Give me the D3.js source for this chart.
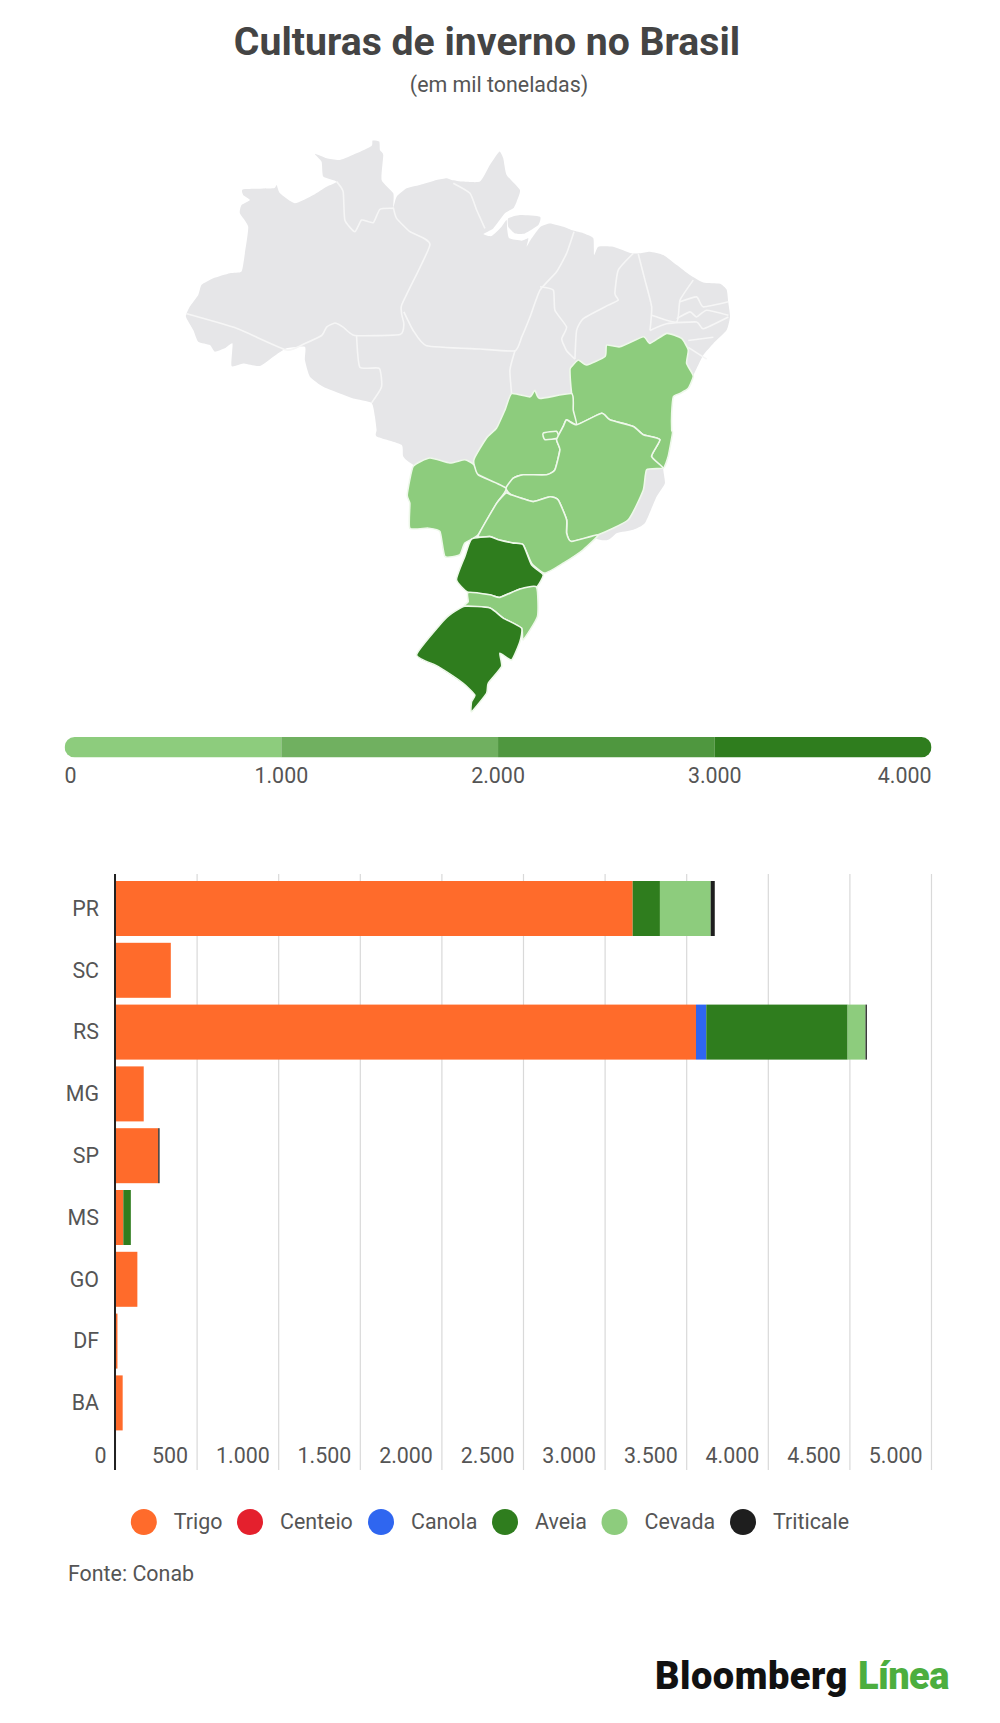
<!DOCTYPE html>
<html>
<head>
<meta charset="utf-8">
<script src="https://cdn.jsdelivr.net/npm/d3@7"></script>
<style>
  body { margin: 0; background: #fff; }
  text { font-family: Roboto, sans-serif; }
</style>
</head>
<body>
<svg id="grafico" width="1000" height="1723"></svg>
<script>
// dados das barras (mil toneladas)
var estados = ["PR", "SC", "RS", "MG", "SP", "MS", "GO", "DF", "BA"]
var culturas = ["Trigo", "Centeio", "Canola", "Aveia", "Cevada", "Triticale"]
var coresCulturas = ["#ff6b2b", "#e4202d", "#2f66f0", "#2f7d1e", "#8dcc7d", "#1e1e1e"]
var trigo = [3172, 342, 3560, 176, 265, 51, 137, 15, 47]
var centeio = [0, 0, 0, 0, 0, 0, 0, 0, 0]
var canola = [0, 0, 63, 0, 0, 0, 0, 0, 0]
var aveia = [167, 0, 866, 0, 0, 46, 0, 0, 0]
var cevada = [311, 0, 110, 0, 0, 0, 0, 0, 0]
var triticale = [25, 0, 8, 0, 8, 0, 0, 0, 0]
var ticksBarras = [0, 500, 1000, 1500, 2000, 2500, 3000, 3500, 4000, 4500, 5000]

// legenda de cores do mapa
var ticksMapa = [0, 1000, 2000, 3000, 4000]
var coresMapa = ["#8dcc7d", "#70b060", "#4f973f", "#2f7d1e"]

// contornos em [lon, lat]
var contornoBrasil = [
  [-74,-7.38],[-73.71,-6.67],[-73.11,-5.84],[-72.87,-5.12],[-72.03,-4.65],[-70.84,-4.29],[-70,-4.17],[-69.76,-2.86],
  [-69.52,-0.95],[-70.12,0.01],[-70,0.61],[-69.4,0.97],[-69.88,1.33],[-69.88,1.74],[-67.72,1.81],[-67.48,2.05],
  [-67.24,1.45],[-66.17,0.73],[-64.85,1.33],[-63.89,1.93],[-63.17,2.29],[-64.13,2.65],[-64.25,3.72],[-64.73,4.28],
  [-63.89,3.96],[-62.93,3.84],[-61.74,4.32],[-60.66,4.85],[-60.59,5.23],[-60.11,5.16],[-60.06,4.56],[-59.82,4.2],
  [-59.94,2.41],[-59.1,1.45],[-59.1,0.44],[-58.86,1.21],[-58.14,1.81],[-57.19,2.05],[-55.99,2.41],[-55.27,2.53],
  [-54.91,2.41],[-54.07,2.29],[-52.87,2.29],[-52.16,3.48],[-51.49,4.44],[-51.2,3.96],[-50.96,2.77],[-50,1.69],
  [-50.24,0.85],[-50.48,0.37],[-51.08,0.01],[-51.92,-1.07],[-52.63,-1.47],[-52.04,-1.62],[-51.32,-0.95],[-50.96,-0.47],
  [-50.91,-1.19],[-50.77,-1.78],[-49.88,-1.95],[-49.4,-1.78],[-49.52,-2.38],[-49.16,-1.78],[-48.52,-0.95],[-47.84,-0.71],
  [-46.89,-0.95],[-46.17,-1.23],[-45.45,-1.42],[-44.73,-1.78],[-44.68,-2.98],[-44.37,-2.38],[-43.3,-2.38],[-41.98,-2.86],
  [-41.38,-2.86],[-40.66,-2.74],[-39.7,-2.98],[-38.74,-3.7],[-37.79,-4.42],[-36.83,-4.95],[-35.63,-5.04],[-35.15,-5.47],
  [-35.03,-6.42],[-34.91,-7.38],[-35.15,-8.34],[-36.11,-9.29],[-36.83,-10.12],[-37.55,-11.59],[-37.91,-12.46],[-38.5,-12.82],
  [-38.98,-13.05],[-39.1,-14.2],[-39.1,-15.36],[-39.04,-15.58],[-39.35,-17.18],[-39.71,-17.98],[-39.59,-19.01],[-40.19,-19.93],
  [-41.02,-21.7],[-41.86,-22.15],[-43.06,-22.37],[-44.26,-22.81],[-52.64,-20.15],[-57.67,-17.75],[-58.39,-17.18],[-58.51,-16.38],
  [-60.3,-15.81],[-60.3,-15.35],[-60.42,-14.43],[-60.66,-13.48],[-61.98,-13.17],[-62.93,-12.82],[-64.13,-12.35],[-65.09,-11.64],
  [-65.45,-10.47],[-65.45,-9.53],[-66.77,-9.64],[-67.72,-10.24],[-68.68,-10.89],[-69.88,-10.71],[-70.72,-10.89],[-70.65,-9.29],
  [-71.2,-9.64],[-71.92,-9.88],[-72.27,-9.41],[-73.11,-9.17],[-73.47,-8.34]
]
var marajo = [[-50.84,-0.35],[-50,-0.11],[-48.56,-0.23],[-48.68,-0.83],[-49.64,-1.43],[-50.36,-1.43],[-50.84,-0.95]]

// divisas dos estados que ficam em cinza
var divisas = [
  [[-74,-7.17],[-70.36,-8.22],[-66.77,-9.76],[-65.45,-9.29],[-64.25,-8.73],[-63.89,-8.13],[-63.29,-7.84],[-62.7,-8.13],[-61.86,-8.73],[-58.62,-8.66],[-58.34,-7.89],[-58.5,-6.57],[-56.47,-2.26],[-57.9,-1.31],[-58.86,-0.35],[-59.1,0.44]],
  [[-61.74,-8.73],[-61.5,-10.98],[-60.11,-11.05],[-59.94,-12.35],[-60.66,-13.48]],
  [[-63.17,2.29],[-62.7,1.57],[-62.58,-0.47],[-61.86,-1.31],[-61.38,-0.47],[-60.54,-0.66],[-60.06,0.3],[-59.1,0.37]],
  [[-54.79,2.17],[-53.59,1.45],[-53.11,0.25],[-52.52,-1.07]],
  [[-58.34,-7.05],[-57.67,-8.37],[-56.71,-9.45],[-52.87,-9.69],[-50.36,-9.81],[-49.88,-8.85],[-49.28,-7.41],[-48.56,-5.5],[-47.37,-4.18],[-46.65,-2.86],[-46.12,-1.31]],
  [[-48.56,-5.26],[-47.6,-5.5],[-47.49,-6.93],[-46.65,-8.13],[-47,-8.97],[-46.65,-9.81],[-46.05,-10.4]],
  [[-50.36,-9.81],[-50.72,-11.16],[-50.6,-12.82]],
  [[-46.05,-10.4],[-45.93,-8.37],[-45.45,-7.53],[-43.65,-6.57],[-42.94,-6.21],[-43.18,-5.73],[-42.94,-4.06],[-41.86,-2.86]],
  [[-41.5,-2.91],[-41.02,-4.78],[-40.54,-6.69],[-40.66,-8.37]],
  [[-40.54,-7.29],[-38.74,-7.77],[-38.5,-6.21],[-37.55,-4.78]],
  [[-38.5,-6.33],[-37.31,-5.98],[-36.83,-6.69],[-35.03,-6.33]],
  [[-38.74,-7.53],[-37.79,-7.05],[-37.31,-7.41],[-36.59,-6.93],[-35.03,-7.29]],
  [[-40.66,-8.37],[-39.46,-7.89],[-37.31,-7.77],[-36.83,-8.25],[-35.03,-7.41]],
  [[-37.91,-9.57],[-36.59,-10.4]],
  [[-37.91,-9.09],[-36.11,-8.85]]
]

// estados com dados, desenhados por cima do cinza
var estadosMapa = {
  BA: [[-46.29,-10.93],[-45.81,-10.46],[-45.21,-10.82],[-43.89,-10.22],[-43.77,-9.41],[-42.82,-9.53],[-41.14,-8.82],[-40.66,-9.29],[-39.46,-8.58],[-38.39,-8.94],[-37.91,-9.76],[-38.03,-10.7],[-37.55,-11.59],[-37.91,-12.46],[-38.5,-12.82],[-38.98,-13.05],[-39.1,-14.2],[-39.1,-15.36],[-39.04,-15.58],[-39.35,-17.18],[-39.71,-17.98],[-40.55,-17.18],[-39.95,-16.03],[-41.14,-15.69],[-41.86,-15.12],[-43.54,-14.66],[-44.14,-14.2],[-45.93,-15],[-46.29,-13.98],[-46.17,-13.29],[-46.29,-12.83],[-46.41,-11.16]],
  GO: [[-50.6,-12.83],[-49.29,-13.06],[-48.93,-12.6],[-48.57,-13.17],[-46.29,-12.83],[-46.17,-13.98],[-45.93,-15],[-46.65,-14.66],[-46.89,-15.12],[-47.37,-16.03],[-47.13,-16.72],[-47.49,-18.1],[-48.09,-18.44],[-49.77,-18.44],[-50.48,-18.67],[-51.01,-19.35],[-52.16,-18.9],[-53.12,-18.44],[-53.31,-17.41],[-52.4,-15.92],[-51.68,-15.23],[-51.08,-13.98]],
  DF: [[-48.33,-15.58],[-47.37,-15.46],[-47.25,-15.92],[-48.21,-16.03]],
  MG: [[-45.93,-15],[-44.14,-14.2],[-43.54,-14.66],[-41.86,-15.12],[-41.14,-15.69],[-39.95,-16.03],[-40.55,-17.18],[-39.71,-17.98],[-40.9,-18.1],[-41.14,-19.47],[-42.22,-21.48],[-44.38,-22.48],[-46.29,-22.92],[-46.65,-22.37],[-46.65,-21.48],[-47.25,-20.15],[-47.85,-19.93],[-49.05,-20.26],[-50.6,-19.81],[-51.01,-19.35],[-50.48,-18.67],[-49.77,-18.44],[-48.09,-18.44],[-47.49,-18.1],[-47.13,-16.72],[-47.37,-16.03],[-46.89,-15.12],[-46.65,-14.66]],
  MS: [[-57.67,-17.87],[-56.47,-17.3],[-55.04,-17.64],[-53.96,-17.41],[-53.31,-17.75],[-53,-18.44],[-51.01,-19.35],[-51.68,-20.38],[-53,-22.48],[-53.96,-23.03],[-54.32,-23.8],[-55.39,-23.91],[-55.75,-22.26],[-56.59,-22.04],[-57.91,-22.04],[-57.91,-20.38],[-58.1,-19.81]],
  SP: [[-50.6,-19.81],[-49.05,-20.26],[-47.85,-19.93],[-47.25,-20.15],[-46.65,-21.48],[-46.65,-22.37],[-46.29,-22.92],[-44.38,-22.48],[-45.46,-23.47],[-46.89,-24.35],[-48.21,-25],[-49.17,-24.35],[-49.77,-23.14],[-50.48,-23.03],[-51.56,-22.81],[-52.16,-22.6],[-53,-22.55],[-51.68,-20.38],[-51.01,-19.69]],
  PR: [[-53.48,-22.77],[-52.16,-22.6],[-51.56,-22.81],[-50.48,-23.03],[-49.77,-23.14],[-49.17,-24.46],[-48.33,-25.11],[-48.81,-25.9],[-50,-26.03],[-51.44,-26.57],[-52.16,-26.4],[-53.72,-26.25],[-54.56,-25.43],[-53.96,-23.91]],
  SC: [[-53.72,-26.25],[-52.16,-26.4],[-51.44,-26.57],[-50,-26.03],[-48.81,-25.9],[-48.74,-27.78],[-49.77,-29.26],[-49.89,-28.52],[-51.2,-27.89],[-52.16,-27.25],[-53.96,-27.14],[-53.72,-26.83]],
  RS: [[-53.96,-27.14],[-52.16,-27.25],[-51.2,-27.89],[-49.89,-28.52],[-50,-29.37],[-50.6,-30.52],[-51.44,-30.1],[-51.32,-30.93],[-52.28,-31.95],[-52.4,-32.56],[-53.48,-33.67],[-53.48,-33.07],[-53.24,-32.66],[-54.08,-31.95],[-55.87,-30.93],[-57.43,-30.2],[-55.75,-28.31],[-55.04,-27.68]]
}

var svg = d3.select("#grafico")
var corTexto = "#555"
var corpo = "21.4px"

// titulo
svg.append("text").text("Culturas de inverno no Brasil")
  .attr("x", 487).attr("y", 55).attr("text-anchor", "middle")
  .style("font-size", "39.2px").style("font-weight", 700).attr("fill", "#444")
svg.append("text").text("(em mil toneladas)")
  .attr("x", 499).attr("y", 92).attr("text-anchor", "middle")
  .style("font-size", corpo).attr("fill", corTexto)

// mapa
var projecao = d3.geoMercator().scale(797.6).translate([1216, 213.5])
function caminho(pontos, fechar) {
  var linha = d3.line().curve(fechar ? d3.curveCardinalClosed.tension(0.5) : d3.curveCardinal.tension(0.5))
  return linha(pontos.map(function(p) { return projecao(p) }))
}

var totais = {}
estados.forEach(function(e, i) {
  totais[e] = trigo[i] + centeio[i] + canola[i] + aveia[i] + cevada[i] + triticale[i]
})
var corMapa = d3.scaleThreshold().domain(ticksMapa.slice(1, 4)).range(coresMapa)

var mapa = svg.append("g")
mapa.append("path").attr("d", caminho(contornoBrasil, true)).attr("fill", "#e6e6e8")
mapa.append("path").attr("d", caminho(marajo, true)).attr("fill", "#e6e6e8")
mapa.selectAll(".divisa").data(divisas).enter().append("path")
  .attr("class", "divisa")
  .attr("d", function(d) { return caminho(d, false) })
  .attr("fill", "none").attr("stroke", "#f6f6f6").attr("stroke-width", 1.6)
mapa.selectAll(".estado").data(Object.keys(estadosMapa)).enter().append("path")
  .attr("class", "estado")
  .attr("d", function(d) { return caminho(estadosMapa[d], true) })
  .attr("fill", function(d) { return corMapa(totais[d]) })
  .attr("stroke", "#eef8ea").attr("stroke-width", 1.6).attr("stroke-linejoin", "round")

// legenda do mapa
var xMapa = d3.scaleLinear().domain([0, 4000]).range([64.6, 931.5])
var formato = d3.formatLocale({ decimal: ",", thousands: ".", grouping: [3], currency: ["", ""] }).format(",d")

svg.append("clipPath").attr("id", "pilula").append("rect")
  .attr("x", xMapa(0)).attr("y", 737).attr("width", xMapa(4000) - xMapa(0)).attr("height", 20.5).attr("rx", 10)
svg.append("g").attr("clip-path", "url(#pilula)")
  .selectAll("rect").data(coresMapa).enter().append("rect")
  .attr("x", function(d, i) { return xMapa(ticksMapa[i]) })
  .attr("y", 737)
  .attr("width", function(d, i) { return xMapa(ticksMapa[i + 1]) - xMapa(ticksMapa[i]) })
  .attr("height", 20.5)
  .attr("fill", function(d) { return d })
svg.append("g").selectAll("text").data(ticksMapa).enter().append("text")
  .text(function(d) { return formato(d) })
  .attr("x", function(d) { return xMapa(d) })
  .attr("y", 783)
  .attr("text-anchor", function(d, i) { return i == 0 ? "start" : i == 4 ? "end" : "middle" })
  .style("font-size", corpo).attr("fill", corTexto)

// barras
var x = d3.scaleLinear().domain([0, 5000]).range([115, 931])
var y = d3.scaleBand().domain(estados).range([877.6, 1433.8]).paddingInner(0.11).paddingOuter(0.055)

var linhas = estados.map(function(e, i) {
  return { estado: e, Trigo: trigo[i], Centeio: centeio[i], Canola: canola[i], Aveia: aveia[i], Cevada: cevada[i], Triticale: triticale[i] }
})
var pilha = d3.stack().keys(culturas)(linhas)
var corCultura = d3.scaleOrdinal().domain(culturas).range(coresCulturas)

// grade e rotulos do eixo x
var eixoX = svg.append("g").attr("transform", "translate(0,1470)")
  .call(d3.axisBottom(x).tickValues(ticksBarras).tickSize(-596).tickFormat(formato))
eixoX.select(".domain").remove()
eixoX.selectAll("line").attr("stroke", "#d9d9d9").attr("stroke-width", 1.2)
eixoX.selectAll("text")
  .attr("text-anchor", "end")
  .attr("x", -9).attr("y", -7).attr("dy", 0)
  .style("font-size", corpo).attr("fill", corTexto)

svg.append("g").selectAll("g").data(pilha).enter().append("g")
  .attr("fill", function(d) { return corCultura(d.key) })
  .selectAll("rect").data(function(d) { return d }).enter().append("rect")
  .attr("x", function(d) { return x(d[0]) })
  .attr("y", function(d) { return y(d.data.estado) })
  .attr("width", function(d) { return x(d[1]) - x(d[0]) })
  .attr("height", y.bandwidth())

// eixo y
var eixoY = svg.append("g").attr("transform", "translate(115,0.5)")
  .call(d3.axisLeft(y).tickSize(0).tickPadding(16))
eixoY.select(".domain").remove()
eixoY.selectAll("text").style("font-size", corpo).attr("fill", corTexto)
svg.append("line").attr("x1", x(0)).attr("x2", x(0)).attr("y1", 874).attr("y2", 1470)
  .attr("stroke", "#222").attr("stroke-width", 2)

// legenda das culturas
var posLegenda = d3.scaleOrdinal().domain(culturas).range([143.8, 250, 381, 505, 614.5, 743])
var legenda = svg.append("g").selectAll("g").data(culturas).enter().append("g")
  .attr("transform", function(d) { return "translate(" + posLegenda(d) + ",1522)" })
legenda.append("circle").attr("r", 13).attr("fill", function(d) { return corCultura(d) })
legenda.append("text").text(function(d) { return d })
  .attr("x", 30).attr("y", 6.5).style("font-size", corpo).attr("fill", corTexto)

// fonte e marca
svg.append("text").text("Fonte: Conab")
  .attr("x", 68).attr("y", 1581).style("font-size", corpo).attr("fill", corTexto)
var marca = svg.append("text").attr("y", 1689)
  .style("font-size", "38px").style("font-weight", 900)
marca.append("tspan").text("Bloomberg").attr("x", 655).attr("fill", "#111").style("letter-spacing", "0.5px")
marca.append("tspan").text("Línea").attr("x", 858).attr("fill", "#4cae3f").style("letter-spacing", "-0.6px")
</script>
</body>
</html>
